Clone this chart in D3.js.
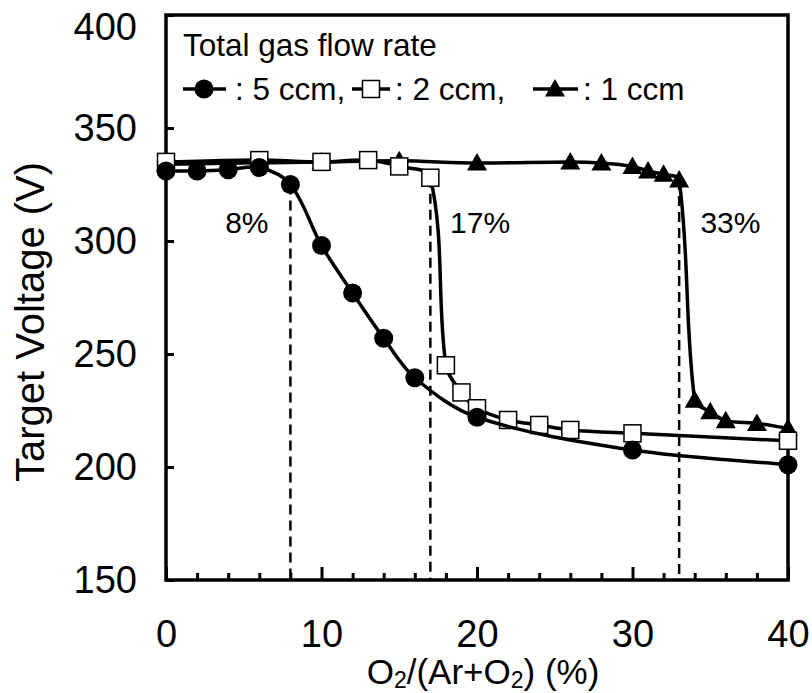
<!DOCTYPE html>
<html><head><meta charset="utf-8">
<script src="https://cdn.jsdelivr.net/npm/d3@7"></script>
<style>body{margin:0;background:#fff}svg{display:block;font-family:"Liberation Sans",Arial,sans-serif}</style>
</head><body><svg id="c" width="812" height="693"></svg>
<script>
// Data
const circX = [0, 2, 4, 6, 8, 10, 12, 14, 16, 20, 30, 40];
const circY = [331, 331, 331.5, 332.5, 325, 298, 277, 257, 239.5, 222, 207.5, 201];
const sqX = [0, 6, 10, 13, 15, 17, 18, 19, 20, 22, 24, 26, 30, 40];
const sqY = [335, 335.8, 335, 335.8, 333, 328, 245, 233, 226, 220.8, 218.6, 216.4, 214.9, 211.6];
const triX = [0, 10, 15, 20, 26, 28, 30, 31, 32, 33, 34, 35, 36, 38, 40];
const triY = [334, 335, 335.5, 334.5, 335, 334.5, 333, 331, 329.5, 327, 229.5, 224.5, 220.5, 219.3, 217.1];
const refX = [8, 17, 33];
const refTop = [325, 328, 327];
const refLabels = ["8%", "17%", "33%"];
const xTicks = [0, 10, 20, 30, 40];
const xMinor = [2, 4, 6, 8, 12, 14, 16, 18, 22, 24, 26, 28, 32, 34, 36, 38];
const yTicks = [150, 200, 250, 300, 350, 400];
const legendTitle = "Total gas flow rate";
const legendLabels = [": 5 ccm,", ": 2 ccm,", ": 1 ccm"];

const svg = d3.select("#c");
const L = 166, R = 788, T = 15, B = 580;
const x = d3.scaleLinear().domain([0, 40]).range([L, R]);
const y = d3.scaleLinear().domain([150, 400]).range([B, T]);

// reference dashed lines
refX.forEach((v, i) => {
  svg.append("line").attr("x1", x(v)).attr("x2", x(v)).attr("y1", y(refTop[i])).attr("y2", y(150))
    .attr("stroke", "#000").attr("stroke-width", 2.5).attr("stroke-dasharray", "10,6");
});
// ref labels
const labPos = [[5.2, 303.5], [20.2, 303.5], [36.3, 303.5]];
refLabels.forEach((t, i) => {
  svg.append("text").attr("x", x(labPos[i][0])).attr("y", y(labPos[i][1]))
    .attr("text-anchor", "middle").attr("font-size", 30).text(t);
});

// frame
svg.append("rect").attr("x", L).attr("y", T).attr("width", R - L).attr("height", B - T)
  .attr("fill", "none").attr("stroke", "#000").attr("stroke-width", 3.5);

// axes
svg.append("g").attr("transform", `translate(0,${B})`)
  .call(d3.axisBottom(x).tickValues(xTicks).tickSize(-13).tickPadding(40).tickFormat(d3.format("d")));
svg.append("g").attr("transform", `translate(0,${B})`)
  .call(d3.axisBottom(x).tickValues(xMinor).tickSize(-7).tickFormat(""));
const ay = svg.append("g").attr("transform", `translate(${L},0)`)
  .call(d3.axisLeft(y).tickValues(yTicks).tickSize(-8).tickPadding(29).tickFormat(d3.format("d")));
svg.selectAll(".domain").remove();
svg.selectAll(".tick line").attr("stroke", "#000").attr("stroke-width", 3);
svg.selectAll(".tick text").attr("font-size", 38).attr("fill", "#000")
  .attr("font-family", "Liberation Sans, Arial, sans-serif");
ay.selectAll(".tick").filter(d => d === 400).select("text").attr("dy", "0.65em");

// axis titles
svg.append("text").attr("transform", `translate(44,322) rotate(-90)`)
  .attr("text-anchor", "middle").attr("font-size", 40).text("Target Voltage (V)");
const xt = svg.append("text").attr("x", 483).attr("y", 684).attr("text-anchor", "middle").attr("font-size", 35);
xt.append("tspan").text("O");
xt.append("tspan").attr("font-size", 23).attr("dy", 4).text("2");
xt.append("tspan").attr("dy", -4).text("/(Ar+O");
xt.append("tspan").attr("font-size", 23).attr("dy", 4).text("2");
xt.append("tspan").attr("dy", -4).text(") (%)");

// smoothing: Hermite with tangent direction from neighbours, control length = segment length / 3
function smoothPath(pts) {
  const p = d3.path();
  const n = pts.length;
  const tan = pts.map((q, i) => {
    const a = pts[Math.max(0, i - 1)], b = pts[Math.min(n - 1, i + 1)];
    const dx = b[0] - a[0], dy = b[1] - a[1], l = Math.hypot(dx, dy) || 1;
    return [dx / l, dy / l];
  });
  p.moveTo(pts[0][0], pts[0][1]);
  for (let i = 0; i < n - 1; i++) {
    const a = pts[i], b = pts[i + 1];
    const d = Math.hypot(b[0] - a[0], b[1] - a[1]) / 3;
    p.bezierCurveTo(a[0] + tan[i][0] * d, a[1] + tan[i][1] * d,
                    b[0] - tan[i + 1][0] * d, b[1] - tan[i + 1][1] * d, b[0], b[1]);
  }
  return p.toString();
}
function series(xs, ys, shape) {
  const pts = xs.map((v, i) => [x(v), y(ys[i])]);
  svg.append("path").attr("d", smoothPath(pts)).attr("fill", "none")
    .attr("stroke", "#000").attr("stroke-width", 3.5);
  pts.forEach(p => marker(p[0], p[1], shape));
}
function marker(cx, cy, shape) {
  if (shape === "circle") {
    svg.append("circle").attr("cx", cx).attr("cy", cy).attr("r", 9.5).attr("fill", "#000");
  } else if (shape === "square") {
    svg.append("rect").attr("x", cx - 8.5).attr("y", cy - 8.5).attr("width", 17).attr("height", 17)
      .attr("fill", "#fff").attr("stroke", "#000").attr("stroke-width", 1.5);
  } else {
    svg.append("path").attr("d", `M${cx},${cy - 10}L${cx + 10},${cy + 7.5}L${cx - 10},${cy + 7.5}Z`).attr("fill", "#000");
  }
}
series(triX, triY, "triangle");
series(sqX, sqY, "square");
series(circX, circY, "circle");

// legend
svg.append("text").attr("x", 183).attr("y", 56).attr("font-size", 31.5).text(legendTitle);
const legItems = [[183, 226, 204, 235, "circle"], [352, 390, 371, 395, "square"], [533, 578, 555, 583, "triangle"]];
legItems.forEach((li, i) => {
  const ly = 89;
  svg.append("line").attr("x1", li[0]).attr("x2", li[1]).attr("y1", ly).attr("y2", ly)
    .attr("stroke", "#000").attr("stroke-width", 3.5);
  marker(li[2], ly, li[4]);
  svg.append("text").attr("x", li[3]).attr("y", ly + 11).attr("font-size", 31.5).text(legendLabels[i]);
});
</script></body></html>
